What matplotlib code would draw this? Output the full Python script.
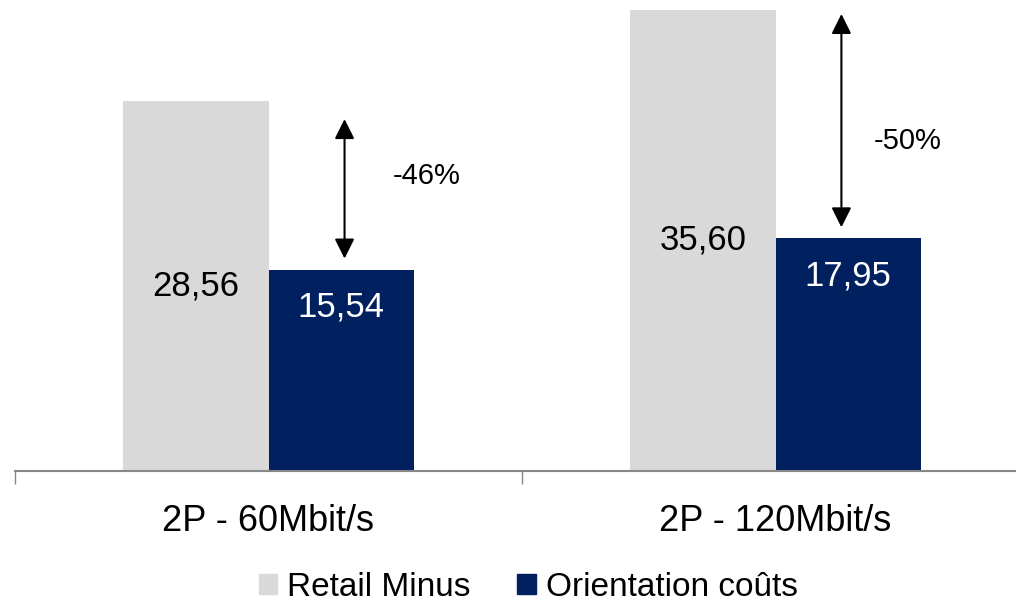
import matplotlib.pyplot as plt
import numpy as np
from matplotlib.patches import Patch

# chart data
categories = [ '2P - 60Mbit/s', '2P - 120Mbit/s' ]
retail_minus = [ 28.56, 35.60 ]
orientation_couts = [ 15.54, 17.95 ]
series_names = [ 'Retail Minus', 'Orientation coûts' ]

# layout constants
col_light = '#D9D9D9'
col_dark = '#002060'
bar_w = 0.286
pct_y = [ 22.8, 25.5 ]      # height of the percentage labels
pct_dx = [ 0.169, 0.117 ]   # horizontal offset of the percentage labels from dark bar centre
arrow_dx = [ 0.007, -0.013 ]# horizontal offset of the arrows from dark bar centre
top_gap = [ 13, 3 ]         # gap (pt) between arrow tip and light bar top

plt.rcParams['font.family'] = [ 'Liberation Sans', 'DejaVu Sans' ]

fig = plt.figure( figsize = ( 10.16, 6.03 ), dpi = 100 )
ax = fig.add_axes( [ 15 / 1016, 0.2189, 1014 / 1016, 0.7811 ] )

x = np.arange( len( categories ) )
ax.bar( x - bar_w / 2, retail_minus, width = bar_w, color = col_light )
ax.bar( x + bar_w / 2, orientation_couts, width = bar_w, color = col_dark )

# value labels: light ones centred, dark ones near the top inside the bar
for i in range( len( categories ) ):
    ax.text( x[i] - bar_w / 2, retail_minus[i] / 2, f'{retail_minus[i]:.2f}'.replace( '.', ',' )
           , ha = 'center', va = 'center', fontsize = 25, color = 'black' )
    ax.annotate( f'{orientation_couts[i]:.2f}'.replace( '.', ',' )
               , xy = ( x[i] + bar_w / 2, orientation_couts[i] )
               , xytext = ( 0, -27 ), textcoords = 'offset points'
               , ha = 'center', va = 'center', fontsize = 25, color = 'white' )

    # double arrow showing the gap
    ax_x = x[i] + bar_w / 2 + arrow_dx[i]
    ax.annotate( '', xy = ( ax_x, retail_minus[i] )
               , xytext = ( ax_x, orientation_couts[i] )
               , arrowprops = dict( arrowstyle = '<|-|>,head_length=0.6,head_width=0.3'
                                  , mutation_scale = 20, color = 'black', lw = 1.5
                                  , shrinkA = 8, shrinkB = top_gap[i] ) )
    pct = orientation_couts[i] / retail_minus[i] - 1
    ax.text( x[i] + bar_w / 2 + pct_dx[i], pct_y[i], f'{pct * 100:.0f}%'
           , ha = 'center', va = 'center', fontsize = 21 )

ax.set_xlim( -0.5, 1.5 )
ax.set_ylim( 0, 471 / 12.955 )

# axis styling
for s in [ 'top', 'right', 'left' ]:
    ax.spines[s].set_visible( False )
ax.spines['bottom'].set_color( '#888888' )
ax.spines['bottom'].set_linewidth( 1.5 )
ax.set_yticks( [] )
ax.set_xticks( x )
ax.set_xticklabels( categories, fontsize = 26 )
ax.tick_params( axis = 'x', which = 'major', length = 0, pad = 24 )
ax.set_xticks( [ -0.5, 0.5, 1.5 ], minor = True )
ax.tick_params( axis = 'x', which = 'minor', length = 9, width = 1, color = '#888888' )

# legend
handles = [ Patch( color = col_light ), Patch( color = col_dark ) ]
fig.legend( handles, series_names, loc = 'center', bbox_to_anchor = ( 0.52, 1 - 587 / 603 )
          , ncol = 2, frameon = False, fontsize = 24
          , handlelength = 0.55, handleheight = 0.55, handletextpad = 0.3
          , columnspacing = 1.4, borderpad = 0 )

fig.savefig( 'out.png', dpi = 100 )
